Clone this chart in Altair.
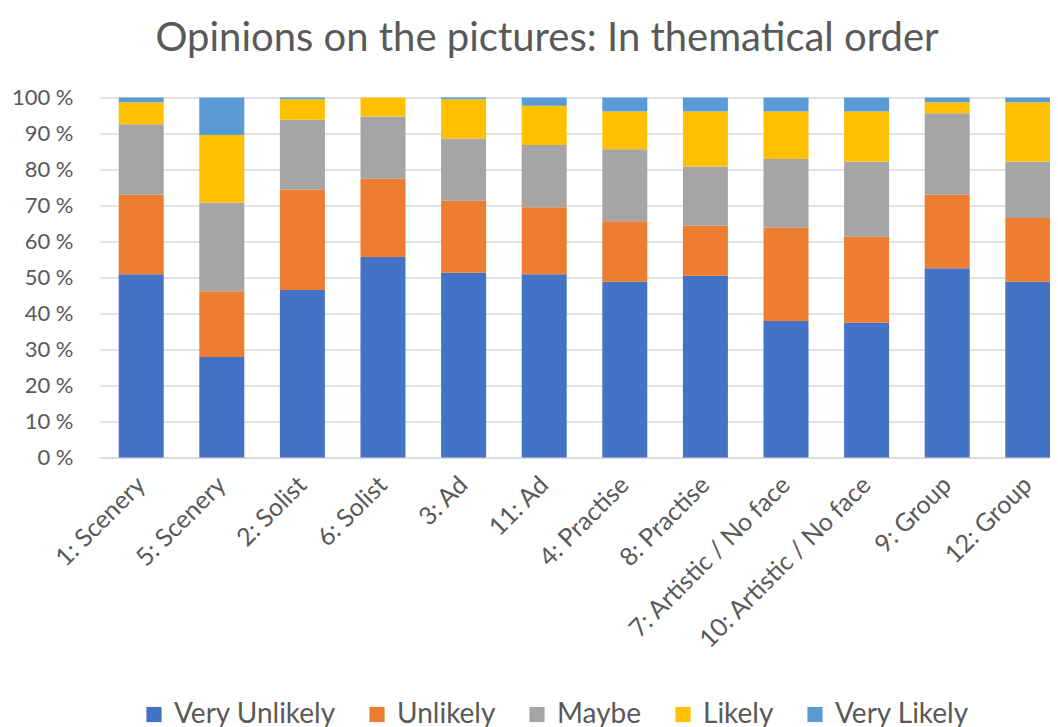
import altair as alt
import pandas as pd

categories = ["1: Scenery", "5: Scenery", "2: Solist", "6: Solist", "3: Ad", "11: Ad",
              "4: Practise", "8: Practise", "7: Artistic / No face", "10: Artistic / No face",
              "9: Group", "12: Group"]
responses = ["Very Unlikely", "Unlikely", "Maybe", "Likely", "Very Likely"]
colors = ["#4472C4", "#ED7D31", "#A5A5A5", "#FFC000", "#5B9BD5"]

very_unlikely = [50.9, 27.9, 46.5, 55.7, 51.3, 50.9, 48.8, 50.5, 37.9, 37.4, 52.6, 48.8]
unlikely      = [22.1, 18.3, 27.9, 21.7, 20.0, 18.6, 16.8, 13.9, 26.0, 23.9, 20.4, 17.7]
maybe         = [19.6, 24.6, 19.4, 17.3, 17.3, 17.3, 20.0, 16.4, 19.0, 20.9, 22.6, 15.7]
likely        = [6.1, 18.8, 5.7, 5.3, 10.9, 10.9, 10.5, 15.3, 13.2, 13.9, 3.1, 16.5]
very_likely   = [1.3, 10.4, 0.5, 0.0, 0.5, 2.3, 3.9, 3.9, 3.9, 3.9, 1.3, 1.3]

series = [very_unlikely, unlikely, maybe, likely, very_likely]
rows = []
for i, c in enumerate(categories):
    for j, r in enumerate(responses):
        rows.append({"picture": c, "response": r, "ord": j, "value": series[j][i]})
df = pd.DataFrame(rows)

FONT = "Lato"
TXT = "#595959"
GRID = "#d9d9d9"

chart = alt.Chart(df, title=alt.Title(
    "Opinions on the pictures: In thematical order",
    font=FONT, fontSize=40, fontWeight="normal", color=TXT,
    anchor="middle", frame="group", baseline="alphabetic", offset=5, dx=-28, dy=9,
)).mark_bar().encode(
    x=alt.X("picture:N", sort=categories,
            scale=alt.Scale(range=[0, 969], paddingInner=0.4417, paddingOuter=0.232),
            axis=alt.Axis(title=None, labelAngle=-45, labelAlign="right", labelBaseline="middle",
                          labelFont=FONT, labelFontSize=25, labelColor=TXT, ticks=False, tickSize=0,
                          labelPadding=23, labelLimit=0, domainColor=GRID, domainWidth=1.5,
                          grid=False)),
    y=alt.Y("value:Q", stack="normalize", scale=alt.Scale(domain=[0, 1]),
            axis=alt.Axis(title=None, values=[0, 0.1, 0.2, 0.3, 0.4, 0.5, 0.6, 0.7, 0.8, 0.9, 1.0],
                          labelExpr="round(datum.value*100) + ' %'",
                          labelFont=FONT, labelFontSize=22, labelColor=TXT,
                          ticks=False, tickSize=0, labelPadding=27, domain=False,
                          grid=True, gridColor=GRID, gridWidth=1.5)),
    color=alt.Color("response:N", sort=responses,
                    scale=alt.Scale(domain=responses, range=colors),
                    legend=alt.Legend(title=None, orient="none", legendX=40, legendY=603,
                                      direction="horizontal", columns=5, symbolType="square",
                                      symbolSize=230, symbolStrokeWidth=0, labelFont=FONT,
                                      labelFontSize=28, labelColor=TXT, columnPadding=27,
                                      labelOffset=6, labelLimit=0)),
    order=alt.Order("ord:Q", sort="ascending"),
).properties(
    width=950, height=360,
    autosize=alt.AutoSizeParams(type="none"),
    padding={"left": 92, "top": 89.5, "right": 0, "bottom": 269.5},
).configure_view(stroke=None)

chart.save("out.html", embed_options={"renderer": "svg", "actions": False})
